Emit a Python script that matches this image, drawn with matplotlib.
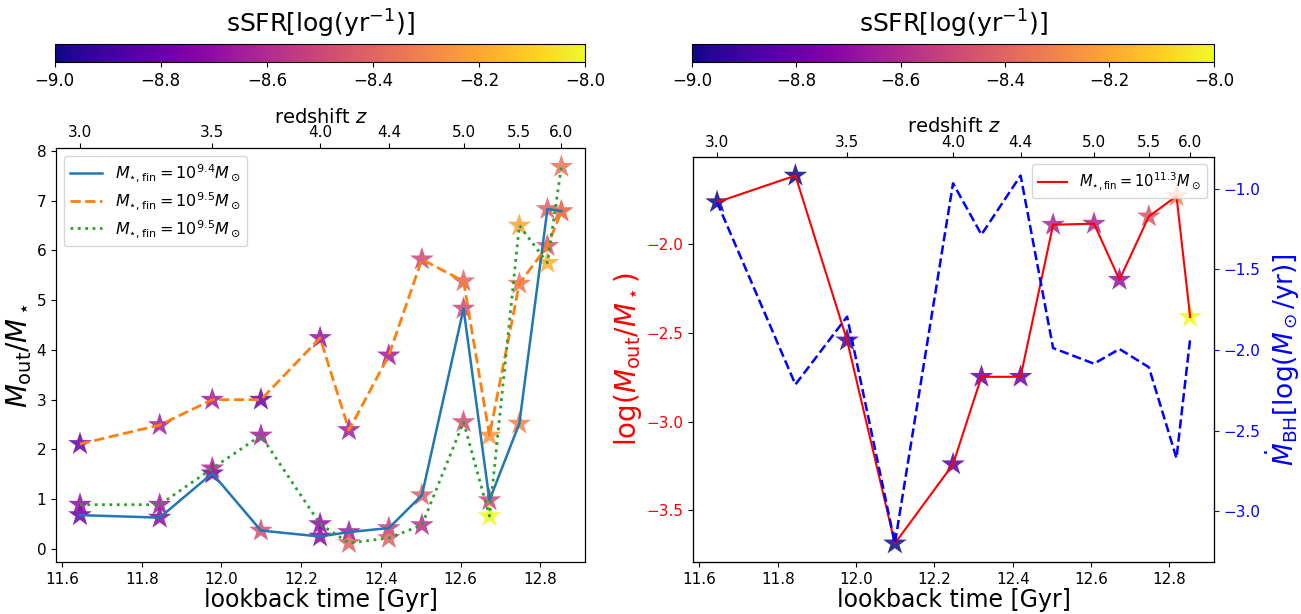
import numpy as np
import matplotlib.pyplot as plt
from matplotlib import cm, colors

plt.rcParams['font.size'] = 11
plt.rcParams['xtick.labelsize'] = 11
plt.rcParams['ytick.labelsize'] = 11

# snapshot lookback times [Gyr] and the redshifts shown on the top axis
lookback = [11.645, 11.845, 11.977, 12.099, 12.2475, 12.32, 12.42,
            12.503, 12.6075, 12.6725, 12.7475, 12.818, 12.853]
z_tick_lookback = [11.645, 11.977, 12.2475, 12.42, 12.6075, 12.7475, 12.853]
z_tick_labels = ['3.0', '3.5', '4.0', '4.4', '5.0', '5.5', '6.0']

# low mass galaxies: M_out / M_star and sSFR per snapshot
ratio_94 = [0.68, 0.63, 1.52, 0.37, 0.25, 0.34, 0.42, 1.08, 4.83, 0.98, 2.52, 6.83, 6.79]
ssfr_94 = [-8.8, -8.72, -8.8, -8.48, -8.72, -8.65, -8.52, -8.42, -8.5, -8.5, -8.3, -8.42, -8.35]
ratio_95a = [2.11, 2.49, 3.0, 3.0, 4.24, 2.39, 3.89, 5.82, 5.38, 2.28, 5.33, 6.09, 6.78]
ssfr_95a = [-8.8, -8.65, -8.65, -8.8, -8.68, -8.65, -8.65, -8.5, -8.4, -8.25, -8.35, -8.45, -8.35]
ratio_95b = [0.89, 0.89, 1.62, 2.28, 0.50, 0.12, 0.22, 0.48, 2.55, 0.66, 6.50, 5.75, 7.68]
ssfr_95b = [-8.7, -8.66, -8.62, -8.65, -8.7, -8.4, -8.42, -8.58, -8.48, -8.0, -8.2, -8.18, -8.35]

# massive galaxy: log(M_out / M_star), sSFR and BH accretion rate
log_ratio_113 = [-1.763, -1.613, -2.542, -3.686, -3.24, -2.747, -2.747,
                 -1.89, -1.884, -2.20, -1.843, -1.729, -2.41]
ssfr_113 = [-9.0, -9.0, -8.92, -9.0, -8.85, -8.8, -8.8, -8.62, -8.62, -8.68, -8.45, -8.3, -8.0]
bh_rate = [-1.083, -2.214, -1.793, -3.2, -0.966, -1.284, -0.918,
           -1.988, -2.085, -1.994, -2.107, -2.671, -1.93]

cbar_ticks = [-9.0, -8.8, -8.6, -8.4, -8.2, -8.0]

norm = colors.Normalize(vmin=-9, vmax=-8)
cmap = 'plasma'

fig = plt.figure(figsize=(13.01, 6.14), dpi=100)
ax1 = fig.add_axes([0.043, 0.085, 0.407, 0.674])
ax2 = fig.add_axes([0.533, 0.085, 0.400, 0.659])

# left panel
ax1.plot(lookback, ratio_94, '-', color='C0', lw=1.8, zorder=3,
         label=r'$M_{\star,\rm fin}=10^{9.4}M_\odot$')
ax1.plot(lookback, ratio_95a, '--', color='C1', lw=2, zorder=3,
         label=r'$M_{\star,\rm fin}=10^{9.5}M_\odot$')
ax1.plot(lookback, ratio_95b, ':', color='C2', lw=2, zorder=3,
         label=r'$M_{\star,\rm fin}=10^{9.5}M_\odot$')
for vals, ss in [(ratio_94, ssfr_94), (ratio_95a, ssfr_95a), (ratio_95b, ssfr_95b)]:
    ax1.scatter(lookback, vals, c=ss, cmap=cmap, norm=norm, marker='*',
                s=320, alpha=0.85, edgecolors='none', zorder=2)
ax1.legend(loc='upper left', fontsize=11.5, labelspacing=0.35)
ax1.set_xlabel('lookback time [Gyr]', fontsize=17, labelpad=1)
ax1.set_ylabel(r'$M_{\rm out}/M_\star$', fontsize=20, labelpad=2)

top1 = ax1.twiny()
top1.set_xlim(ax1.get_xlim())
top1.set_xticks(z_tick_lookback)
top1.set_xticklabels(z_tick_labels)
top1.tick_params(axis='x', pad=2)
top1.set_xlabel('redshift $z$', fontsize=14, labelpad=2)

# right panel
ax2.plot(lookback, log_ratio_113, '-', color='red', lw=1.5, zorder=3,
         label=r'$M_{\star,\rm fin}=10^{11.3}M_\odot$')
ax2.scatter(lookback, log_ratio_113, c=ssfr_113, cmap=cmap, norm=norm, marker='*',
            s=320, alpha=0.85, edgecolors='none', zorder=2)
ax2.legend(loc='upper right', fontsize=10.5)
ax2.set_xlabel('lookback time [Gyr]', fontsize=17, labelpad=1)
ax2.set_ylabel(r'$\log(M_{\rm out}/M_\star)$', fontsize=20, color='red', labelpad=2)
ax2.tick_params(axis='y', labelcolor='red')

ax3 = ax2.twinx()
ax3.plot(lookback, bh_rate, '--', color='blue', lw=1.8)
ax3.set_ylabel(r'$\dot{M}_{\rm BH}[\log(M_\odot/{\rm yr})]$', fontsize=19,
               color='blue', labelpad=2)
ax3.tick_params(axis='y', colors='blue')
ax3.set_yticks([-1.0, -1.5, -2.0, -2.5, -3.0])

top2 = ax2.twiny()
top2.set_xlim(ax2.get_xlim())
top2.set_xticks(z_tick_lookback)
top2.set_xticklabels(z_tick_labels)
top2.tick_params(axis='x', pad=2)
top2.set_xlabel('redshift $z$', fontsize=14, labelpad=2)

# colour bars for sSFR
sm = cm.ScalarMappable(norm=norm, cmap=cmap)
for rect in ([0.042, 0.899, 0.408, 0.029], [0.532, 0.899, 0.401, 0.029]):
    cax = fig.add_axes(rect)
    cb = fig.colorbar(sm, cax=cax, orientation='horizontal')
    cb.set_ticks(cbar_ticks)
    cax.tick_params(labelsize=12)
    cax.set_title(r'sSFR[log(yr$^{-1}$)]', fontsize=18, pad=8)

fig.savefig('out.png', dpi=100)
